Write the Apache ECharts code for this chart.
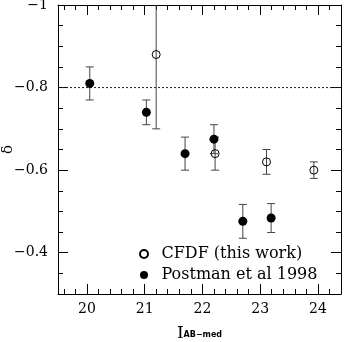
<!DOCTYPE html>
<html>
<head>
<meta charset="utf-8">
<script src="https://cdn.jsdelivr.net/npm/echarts@6/dist/echarts.min.js"></script>
<style>html,body{margin:0;padding:0;background:#fff;}#c{width:348px;height:342px;}</style>
</head>
<body>
<div id="c"></div>
<script>
// CFDF (this work)
const cfdfX = [21.20, 22.22, 23.11, 23.93];
const cfdfY = [-0.88, -0.64, -0.62, -0.60];
const cfdfErr = [0.18, 0.04, 0.03, 0.02];
// Postman et al 1998
const postX = [20.05, 21.03, 21.70, 22.20, 22.70, 23.19];
const postY = [-0.81, -0.74, -0.64, -0.675, -0.476, -0.484];
const postErr = [0.04, 0.03, 0.04, 0.035, 0.041, 0.035];
const refLine = -0.8;
const xMin = 19.5, xMax = 24.4;
const yMin = -1, yMax = -0.3;

const pts = (xs, ys) => xs.map((x, i) => [x, ys[i]]);
const errs = (xs, ys, es) => xs.map((x, i) => [x, ys[i] - es[i], ys[i] + es[i]]);

const FONT = 'DejaVu Serif';
const AX = '#000';

function xAx(pos, major, labels) {
  return {
    type: 'value', position: pos, min: xMin, max: xMax,
    splitNumber: major ? 5 : 25,
    axisLine: { show: major, lineStyle: { color: AX, width: 1 } },
    axisTick: { show: true, inside: true, length: major ? 10 : 5, lineStyle: { color: AX, width: 1 } },
    axisLabel: {
      show: labels, margin: 8, color: '#000', fontFamily: FONT, fontSize: 14,
      formatter: v => (Math.abs(v - Math.round(v)) < 1e-6 ? String(Math.round(v)) : '')
    },
    splitLine: { show: false },
    name: labels ? '{a|I}{b|AB\u2212med}' : '',
    nameLocation: 'middle', nameGap: 31,
    nameTextStyle: {
      rich: {
        a: { fontFamily: FONT, fontSize: 17, color: '#000' },
        b: { fontFamily: 'DejaVu Sans', fontWeight: 'bold', fontSize: 8, color: '#000', padding: [0, 0, -3, 0] }
      }
    }
  };
}
function yAx(pos, major, labels) {
  return {
    type: 'value', position: pos, min: yMin, max: yMax, inverse: true,
    interval: major ? 0.2 : 0.05,
    axisLine: { show: major, lineStyle: { color: AX, width: 1 } },
    axisTick: { show: true, inside: true, length: major ? 10 : 5, lineStyle: { color: AX, width: 1 } },
    axisLabel: {
      show: labels, margin: 10, color: '#000', fontFamily: FONT, fontSize: 14,
      formatter: v => {
        const r = Math.round(v * 10) / 10;
        if (Math.abs(v - r) > 1e-6 || Math.abs(r - yMax) < 1e-6 || Math.abs(Math.round(r * 5) - r * 5) > 1e-6) return '';
        const s = String(Math.abs(r));
        return (r < 0 ? '\u2212' : '') + s;
      }
    },
    splitLine: { show: false },
    name: labels ? '\u03b4' : '',
    nameLocation: 'middle', nameGap: 42, nameRotate: 90, nameMoveOverlap: false,
    nameTextStyle: { fontFamily: FONT, fontSize: 15, color: '#000' }
  };
}

function errItem(params, api) {
  const x = api.value(0);
  const lo = api.coord([x, api.value(1)]);
  const hi = api.coord([x, api.value(2)]);
  const c = 4;
  const st = { stroke: '#444', lineWidth: 1 };
  return {
    type: 'group',
    children: [
      { type: 'line', shape: { x1: lo[0], y1: lo[1], x2: hi[0], y2: hi[1] }, style: st },
      { type: 'line', shape: { x1: lo[0] - c, y1: lo[1], x2: lo[0] + c, y2: lo[1] }, style: st },
      { type: 'line', shape: { x1: hi[0] - c, y1: hi[1], x2: hi[0] + c, y2: hi[1] }, style: st }
    ]
  };
}

const chart = echarts.init(document.getElementById('c'), null, { renderer: 'canvas' });
chart.setOption({
  animation: false,
  backgroundColor: '#fff',
  grid: { left: 58, right: 7, top: 5, bottom: 48, containLabel: false, outerBoundsMode: 'none' },
  xAxis: [xAx('bottom', true, true), xAx('bottom', false, false), xAx('top', true, false), xAx('top', false, false)],
  yAxis: [yAx('left', true, true), yAx('left', false, false), yAx('right', true, false), yAx('right', false, false)],
  legend: {
    orient: 'vertical', left: 134, top: 241,
    itemWidth: 25, itemHeight: 8, itemGap: 5,
    textStyle: { fontFamily: FONT, fontSize: 16, color: '#000', lineHeight: 16 },
    data: ['CFDF (this work)', 'Postman et al 1998']
  },
  series: [
    {
      type: 'line', name: 'ref', silent: true, z: 2, symbol: 'none',
      lineStyle: { color: '#0000ff', type: [2, 2], width: 1 },
      data: [[xMin, refLine], [xMax, refLine]]
    },
    {
      type: 'custom', name: 'errCFDF', clip: true, silent: true, z: 3,
      renderItem: errItem, data: errs(cfdfX, cfdfY, cfdfErr), encode: { x: 0, y: [1, 2] }
    },
    {
      type: 'custom', name: 'errPost', clip: true, silent: true, z: 3,
      renderItem: errItem, data: errs(postX, postY, postErr), encode: { x: 0, y: [1, 2] }
    },
    {
      type: 'scatter', name: 'CFDF (this work)', symbol: 'circle', symbolSize: 8, z: 5,
      itemStyle: { color: 'rgba(0,0,0,0)', borderColor: '#000', borderWidth: 1, opacity: 1 },
      data: pts(cfdfX, cfdfY)
    },
    {
      type: 'scatter', name: 'Postman et al 1998', symbol: 'circle', symbolSize: 9, z: 5,
      itemStyle: { color: '#000', opacity: 1 },
      data: pts(postX, postY)
    }
  ]
});
</script>
</body>
</html>
